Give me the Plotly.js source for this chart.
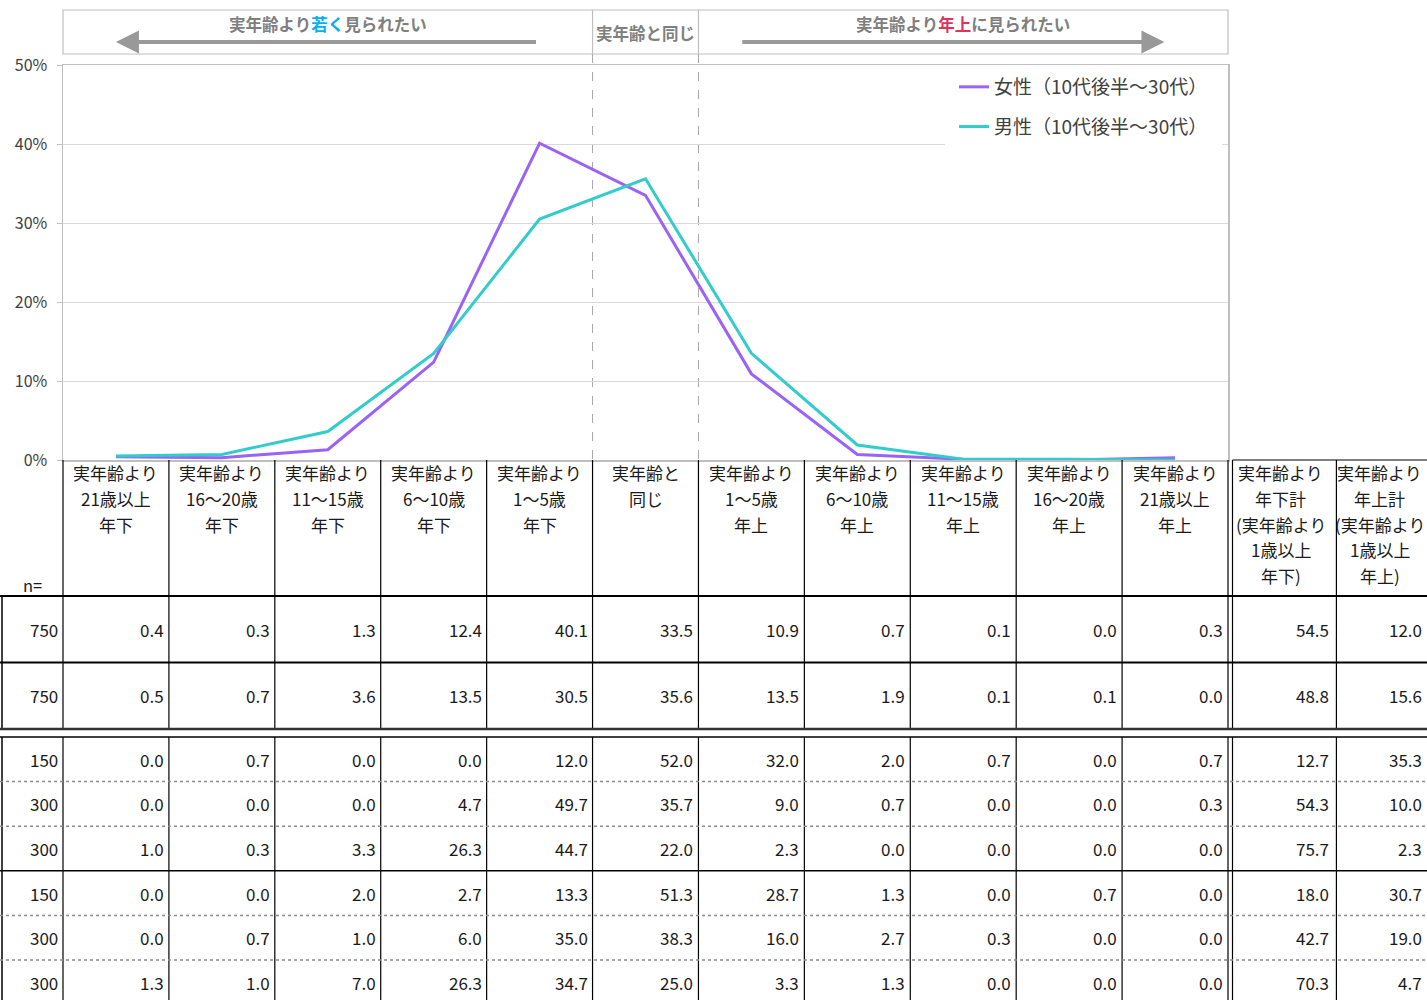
<!DOCTYPE html>
<html><head><meta charset="utf-8">
<script src="https://cdn.plot.ly/plotly-3.0.1.min.js"></script>
<style>html,body{margin:0;padding:0;background:#fff}</style>
</head><body><div id="chart" style="width:1427px;height:1000px"></div>
<script>
// ---------------- data ----------------
const categories = [
  '実年齢より\n21歳以上\n年下', '実年齢より\n16～20歳\n年下', '実年齢より\n11～15歳\n年下',
  '実年齢より\n6～10歳\n年下', '実年齢より\n1～5歳\n年下', '実年齢と\n同じ',
  '実年齢より\n1～5歳\n年上', '実年齢より\n6～10歳\n年上', '実年齢より\n11～15歳\n年上',
  '実年齢より\n16～20歳\n年上', '実年齢より\n21歳以上\n年上'
];
const totalColumns = ['実年齢より\n年下計\n(実年齢より\n1歳以上\n年下)', '実年齢より\n年上計\n(実年齢より\n1歳以上\n年上)'];
const seriesNames = ['女性（10代後半～30代）', '男性（10代後半～30代）'];
const female = [0.4, 0.3, 1.3, 12.4, 40.1, 33.5, 10.9, 0.7, 0.1, 0.0, 0.3];
const male   = [0.5, 0.7, 3.6, 13.5, 30.5, 35.6, 13.5, 1.9, 0.1, 0.1, 0.0];
const mainN = [750, 750];
const femaleTotals = [54.5, 12.0];
const maleTotals   = [48.8, 15.6];
const subgroupN = [150, 300, 300, 150, 300, 300];
const subgroupValues = [
  [0.0, 0.7, 0.0, 0.0, 12.0, 52.0, 32.0, 2.0, 0.7, 0.0, 0.7, 12.7, 35.3],
  [0.0, 0.0, 0.0, 4.7, 49.7, 35.7, 9.0, 0.7, 0.0, 0.0, 0.3, 54.3, 10.0],
  [1.0, 0.3, 3.3, 26.3, 44.7, 22.0, 2.3, 0.0, 0.0, 0.0, 0.0, 75.7, 2.3],
  [0.0, 0.0, 2.0, 2.7, 13.3, 51.3, 28.7, 1.3, 0.0, 0.7, 0.0, 18.0, 30.7],
  [0.0, 0.7, 1.0, 6.0, 35.0, 38.3, 16.0, 2.7, 0.3, 0.0, 0.0, 42.7, 19.0],
  [1.3, 1.0, 7.0, 26.3, 34.7, 25.0, 3.3, 1.3, 0.0, 0.0, 0.0, 70.3, 4.7]
];
const youngerLabel = '実年齢より<span style="color:#00b0f0">若く</span>見られたい';
const sameLabel = '実年齢と同じ';
const olderLabel = '実年齢より<span style="color:#e0325a">年上</span>に見られたい';
const yTicks = [0, 10, 20, 30, 40, 50];

// ---------------- geometry ----------------
const W = 1427, H = 1000;
const plotL = 63, plotR = 1228, plotT = 65, plotB = 460;
const boxT = 10, boxB = 54;
const nCat = categories.length;
const colW = (plotR - plotL) / nCat;
const px = v => v / W;
const py = v => 1 - v / H;
const x2max = (W - plotL) / colW - 0.5;
const FONT = '"Noto Sans CJK JP", "Noto Sans", sans-serif';
const TXT = '#1a1a1a';

const headerH = 136, mainRowH = 66.5, subRowH = 44.6, blockGap = 8;
const headerFirst = 13, headerLineH = 25.5;
const dblGap = 4.5;

// rows
const rows = [];
let cur = headerH;
mainN.forEach((n, i) => {
  const vals = (i === 0 ? female.concat(femaleTotals) : male.concat(maleTotals));
  rows.push({n, vals, top: cur, h: mainRowH});
  cur += mainRowH;
});
const block1End = cur;
cur += blockGap;
const block2Start = cur;
const subSep = ['dot', 'dot', 'solid', 'dot', 'dot', 'none'];
subgroupN.forEach((n, i) => {
  rows.push({n, vals: subgroupValues[i], top: cur, h: subRowH, sep: subSep[i]});
  cur += subRowH;
});
const tableEnd = H - plotB;

// ---------------- traces ----------------
const data = [
  {x: categories, y: female, name: seriesNames[0], type: 'scatter', mode: 'lines',
   line: {color: '#9b63f5', width: 3}, legendgroup: 'f', hoverinfo: 'x+y'},
  {x: categories, y: male, name: seriesNames[1], type: 'scatter', mode: 'lines',
   line: {color: '#33cccc', width: 3}, legendgroup: 'm', hoverinfo: 'x+y'},
  {x: [], y: [], xaxis: 'x2', yaxis: 'y2', showlegend: false, type: 'scatter', mode: 'lines'}
];

// ---------------- shapes ----------------
const shapes = [];
const line = (x0, y0, x1, y1, color, width, dash, extra) => shapes.push(Object.assign({
  type: 'line', xref: 'paper', yref: 'paper', x0: px(x0), y0: py(y0), x1: px(x1), y1: py(y1),
  line: {color, width, dash: dash || 'solid'}
}, extra || {}));

// legend backdrop (covers gridline like the original legend box)
shapes.push({type: 'rect', xref: 'paper', yref: 'paper', x0: px(945), x1: px(plotR - 6), y0: py(plotT + 2), y1: py(150),
  line: {width: 0}, fillcolor: '#fff', layer: 'above'});

// header box
shapes.push({type: 'rect', xref: 'paper', yref: 'paper', x0: px(plotL), x1: px(plotR), y0: py(boxT), y1: py(boxB),
  line: {color: '#bfbfbf', width: 1.2}});
[4.5, 5.5].forEach(b => {
  shapes.push({type: 'line', xref: 'x', yref: 'paper', x0: b, x1: b, y0: py(boxT), y1: py(boxB), line: {color: '#bfbfbf', width: 1.2}});
  shapes.push({type: 'line', xref: 'x', yref: 'paper', x0: b, x1: b, y0: py(boxB), y1: py(plotB), layer: 'between',
    line: {color: '#a6a6a6', width: 1, dash: 'dash'}});
});

// table borders
const bx = i => plotL + i * colW;
const T = v => plotB + v;
const dblX = plotR + dblGap;
const col12 = bx(nCat + 1) + dblGap - 2;
[[0, block1End], [block2Start, tableEnd]].forEach(([a, b]) => {
  for (let i = 0; i <= nCat; i++) line(bx(i), T(a), bx(i), T(b), '#000', 1.2);
  line(dblX, T(a), dblX, T(b), '#000', 1.2);
  line(col12, T(a), col12, T(b), '#000', 1.2);
  line(2, T(Math.max(a, headerH)), 2, T(b), '#000', 1.5);
});
line(dblX, T(0), W, T(0), '#000', 1.2);
line(0, T(headerH), W, T(headerH), '#000', 2);
line(0, T(rows[1].top), W, T(rows[1].top), '#000', 2);
line(0, T(block1End), W, T(block1End), '#333', 2.5);
line(0, T(block2Start), W, T(block2Start), '#000', 1.5);
rows.slice(2).forEach(r => {
  if (r.sep === 'dot') line(0, T(r.top + r.h), W, T(r.top + r.h), '#8c8c8c', 1.5, 'dot');
  else if (r.sep === 'solid') line(0, T(r.top + r.h), W, T(r.top + r.h), '#000', 1.5);
});

// ---------------- annotations ----------------
const ann = [];
const hdrFont = {family: FONT, size: 16.5, color: '#7f7f7f'};
ann.push({xref: 'x', yref: 'paper', x: 2, y: py(24), xanchor: 'center', yanchor: 'middle',
  text: '<b>' + youngerLabel + '</b>', showarrow: false, font: hdrFont});
ann.push({xref: 'x', yref: 'paper', x: 5, y: py(33), xanchor: 'center', yanchor: 'middle',
  text: '<b>' + sameLabel + '</b>', showarrow: false, font: hdrFont});
ann.push({xref: 'x', yref: 'paper', x: 8, y: py(24), xanchor: 'center', yanchor: 'middle',
  text: '<b>' + olderLabel + '</b>', showarrow: false, font: hdrFont});
ann.push({xref: 'x', yref: 'paper', x: 0, y: py(42), axref: 'x', ayref: 'pixel', ax: 3.98, ay: 0, text: '',
  showarrow: true, arrowhead: 2, arrowsize: 1.15, arrowwidth: 4, arrowcolor: '#999999', standoff: 0});
ann.push({xref: 'x', yref: 'paper', x: 9.9, y: py(42), axref: 'x', ayref: 'pixel', ax: 5.9, ay: 0, text: '',
  showarrow: true, arrowhead: 2, arrowsize: 1.15, arrowwidth: 4, arrowcolor: '#999999', standoff: 0});

// table header
categories.concat(totalColumns).forEach((lbl, i) => {
  lbl.split('\n').forEach((ln, k) => {
    ann.push({xref: 'x2', yref: 'y2', x: Math.min(i, x2max - 0.1), y: headerFirst + k * headerLineH, text: ln,
      showarrow: false, font: {family: FONT, size: 17, color: TXT}, xanchor: 'center', yanchor: 'middle',
      xshift: i === nCat + 1 ? -7 : 0});
  });
});
ann.push({xref: 'paper', yref: 'y2', x: px(32), y: headerH - 11, xanchor: 'center', yanchor: 'middle', text: 'n=',
  showarrow: false, font: {family: FONT, size: 16.5, color: TXT}});

// table values
rows.forEach(r => {
  const yc = r.top + r.h / 2;
  ann.push({xref: 'paper', yref: 'y2', x: px(plotL), xshift: -3, xanchor: 'right', yanchor: 'middle', y: yc,
    text: String(r.n), showarrow: false, font: {family: FONT, size: 17, color: TXT}});
  r.vals.forEach((v, i) => {
    ann.push({xref: 'x2', yref: 'y2', x: Math.min(i + 0.5, x2max), xshift: -3, xanchor: 'right', yanchor: 'middle', y: yc,
      text: v.toFixed(1), showarrow: false, font: {family: FONT, size: 17, color: TXT}});
  });
});

const layout = {
  width: W, height: H,
  margin: {l: 0, r: 0, t: 0, b: 0},
  paper_bgcolor: '#fff', plot_bgcolor: '#fff',
  font: {family: FONT, color: '#404040'},
  showlegend: true,
  legend: {x: px(954), xanchor: 'left', y: py(plotT + 3), yanchor: 'top', bgcolor: 'rgba(0,0,0,0)', borderwidth: 0,
    font: {family: FONT, size: 19, color: '#404040'}, tracegroupgap: 12, traceorder: 'grouped'},
  xaxis: {type: 'category', domain: [px(plotL), px(plotR)], range: [-0.5, nCat - 0.5], showticklabels: false,
    ticks: '', showgrid: false, zeroline: false, showline: true, mirror: true, linecolor: '#bfbfbf', linewidth: 1.5,
    anchor: 'y', fixedrange: true},
  yaxis: {domain: [py(plotB), py(plotT)], range: [0, 50], tickvals: yTicks, ticktext: yTicks.map(t => t + '%'),
    showgrid: true, gridcolor: '#d9d9d9', gridwidth: 1, zeroline: false, showline: true, mirror: true,
    linecolor: '#bfbfbf', linewidth: 1.5, ticks: 'outside', ticklen: 5, tickcolor: '#bfbfbf',
    ticklabelstandoff: 6, tickfont: {family: FONT, size: 16, color: '#404040'}, anchor: 'x', fixedrange: true},
  xaxis2: {domain: [px(plotL), 1], range: [-0.5, x2max], visible: false, anchor: 'y2', fixedrange: true},
  yaxis2: {domain: [0, py(plotB)], range: [tableEnd, 0], visible: false, anchor: 'x2', fixedrange: true},
  shapes, annotations: ann
};

Plotly.newPlot('chart', data, layout, {displayModeBar: false, staticPlot: true});
</script></body></html>
